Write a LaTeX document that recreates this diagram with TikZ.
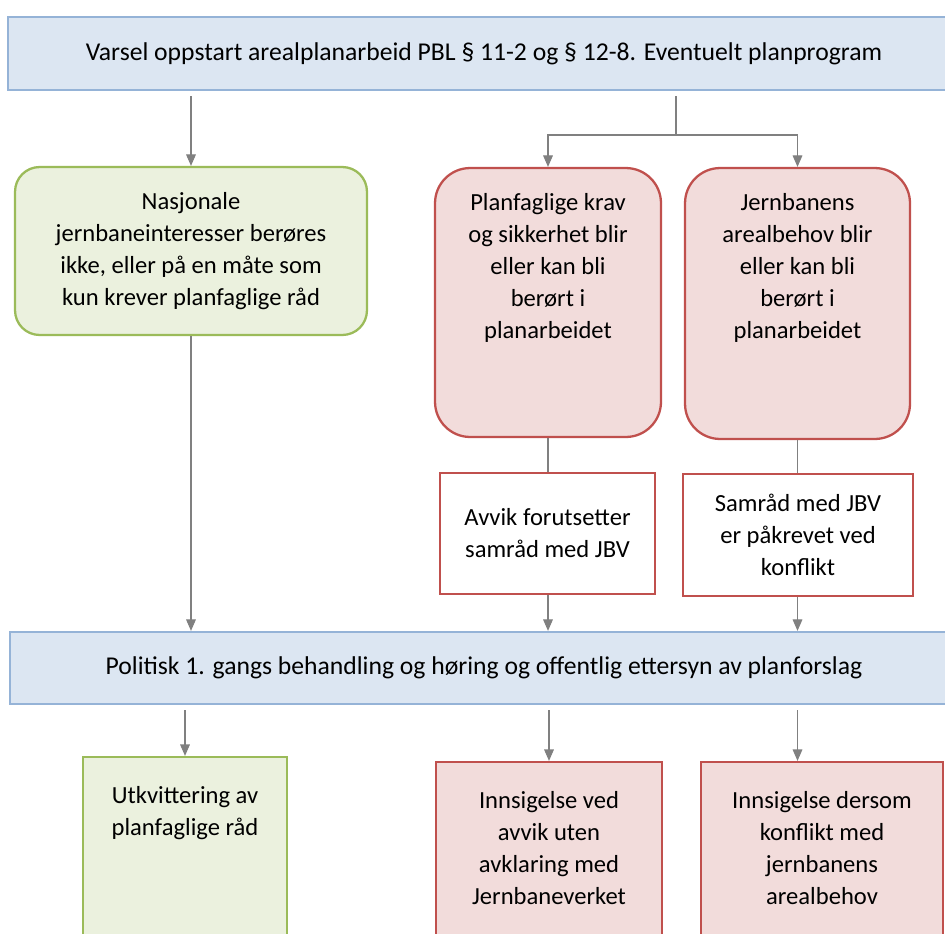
\documentclass[tikz,border=0pt]{standalone}
\usepackage{fontspec}
\setmainfont{Carlito}
\usetikzlibrary{arrows.meta}

\definecolor{blaafyll}{HTML}{DCE6F2}
\definecolor{blaakant}{HTML}{95B3D7}
\definecolor{gronnfyll}{HTML}{EBF1DE}
\definecolor{gronnkant}{HTML}{9BBB59}
\definecolor{roedfyll}{HTML}{F2DCDB}
\definecolor{roedkant}{HTML}{C0504D}
\definecolor{pilgraa}{HTML}{808080}

% tekst i toppen av en boks: bredde, hoyde, luft over, tekst
\newcommand\toppboks[4]{\parbox[c][#2][t]{#1}{\centering\vspace*{#3}\strut #4}}

\tikzset{
  tekst/.style={font=\fontsize{14}{18.2}\selectfont, text=black, align=center},
  fase/.style={tekst, font=\fontsize{14.6}{18}\selectfont, draw=blaakant, fill=blaafyll, line width=1.3pt},
  gronnboks/.style={tekst, draw=gronnkant, fill=gronnfyll, line width=1.3pt},
  roedboks/.style={tekst, draw=roedkant, fill=roedfyll, line width=1.3pt},
  hvitboks/.style={tekst, draw=roedkant, fill=white, line width=1.3pt},
  pil/.style={draw=pilgraa, line width=0.6pt, -{Triangle[width=5.5pt,length=6.5pt]}},
  strek/.style={draw=pilgraa, line width=0.6pt}
}

\begin{document}
\begin{tikzpicture}[x=0.02cm,y=-0.02cm]
\useasboundingbox (0,0) rectangle (945,933);
\clip (0,0) rectangle (945,933);

% fase 1
\node[fase, minimum width=19.04cm, minimum height=1.46cm] (varsel) at (484,53.5)
  {Varsel oppstart arealplanarbeid PBL § 11-2 og § 12-8. Eventuelt planprogram};

\node[gronnboks, rounded corners=14pt, minimum width=7.04cm, minimum height=3.36cm] (nasjonal) at (191,251)
  {Nasjonale\\jernbaneinteresser berøres\\ikke, eller på en måte som\\kun krever planfaglige råd};
\node[roedboks, rounded corners=20pt, inner sep=0pt] (planfag) at (548,302.5)
  {\toppboks{4.52cm}{5.38cm}{0.4cm}{Planfaglige krav\\og sikkerhet blir\\eller kan bli\\berørt i\\planarbeidet}};
\node[roedboks, rounded corners=20pt, inner sep=0pt] (arealbehov) at (797.5,303.5)
  {\toppboks{4.5cm}{5.42cm}{0.4cm}{Jernbanens\\arealbehov blir\\eller kan bli\\berørt i\\planarbeidet}};

\node[hvitboks, minimum width=4.3cm, minimum height=2.42cm] (avvik) at (547.5,533.5)
  {Avvik forutsetter\\samråd med JBV};
\node[hvitboks, minimum width=4.6cm, minimum height=2.44cm] (samraad) at (798,535)
  {Samråd med JBV\\er påkrevet ved\\konflikt};

% fase 2
\node[fase, minimum width=18.96cm, minimum height=1.44cm] (politisk) at (484,668)
  {Politisk 1. gangs behandling og høring og offentlig ettersyn av planforslag};

\node[gronnboks, inner sep=0pt] (utkvitt) at (185,883.5)
  {\toppboks{4.08cm}{5.06cm}{0.48cm}{Utkvittering av\\planfaglige råd}};
\node[roedboks, inner sep=0pt] (innsig1) at (549,886)
  {\toppboks{4.52cm}{4.96cm}{0.48cm}{Innsigelse ved\\avvik uten\\avklaring med\\Jernbaneverket}};
\node[roedboks, inner sep=0pt] (innsig2) at (822,886)
  {\toppboks{4.84cm}{4.96cm}{0.48cm}{Innsigelse dersom\\konflikt med\\jernbanens\\arealbehov}};

% piler
\coordinate (deling) at (676,135);
\draw[pil, shorten <=3pt] (varsel.south -| nasjonal) -- (nasjonal.north);
\draw[strek, shorten <=3pt] (varsel.south -| deling) -- (deling);
\draw[pil] (deling) -| (planfag.north);
\draw[pil] (deling) -| (arealbehov.north);
\draw[strek] (planfag.south) -- (avvik.north -| planfag);
\draw[strek] (arealbehov.south) -- (samraad.north -| arealbehov);
\draw[pil] (nasjonal.south) -- (politisk.north -| nasjonal);
\draw[pil] (avvik.south -| planfag) -- (politisk.north -| planfag);
\draw[pil] (samraad.south -| arealbehov) -- (politisk.north -| arealbehov);
\draw[pil, shorten <=3pt] (politisk.south -| utkvitt) -- (utkvitt.north);
\draw[pil, shorten <=3pt] (politisk.south -| innsig1) -- (innsig1.north);
\draw[pil, shorten <=3pt] (politisk.south -| arealbehov) -- (innsig2.north -| arealbehov);
\end{tikzpicture}
\end{document}
